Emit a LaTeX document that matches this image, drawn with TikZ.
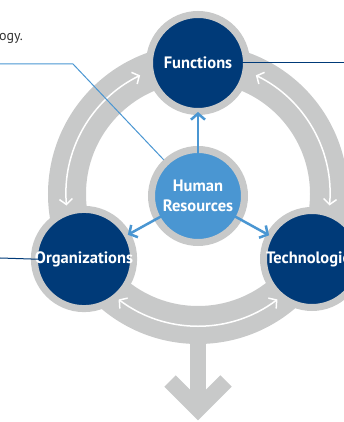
\documentclass[tikz,border=0pt]{standalone}
\usepackage{fontspec}
\setmainfont{PT Sans}
\usetikzlibrary{arrows.meta}
\definecolor{navy}{HTML}{003A78}
\definecolor{skyblue}{HTML}{4A96D2}
\definecolor{ringgray}{HTML}{C8C9C9}
\definecolor{txtgray}{HTML}{333333}

\begin{document}
\begin{tikzpicture}[x=1pt,y=1pt]
   \tikzstyle{every node}=[font=\bfseries\fontsize{16.5}{20}\selectfont, text=white, align=center]
   \tikzstyle{mainnode}=[circle, fill=navy, draw=ringgray, line width=7pt, minimum size=97pt, inner sep=0pt]
   \tikzstyle{hrnode}=[mainnode, fill=skyblue, minimum size=93pt]
   \tikzstyle{ringarrow}=[white, line width=1.5pt, {Straight Barb[length=5.5pt,width=13pt]}-{Straight Barb[length=5.5pt,width=13pt]}]
   \tikzstyle{spoke}=[skyblue, line width=2.5pt, -{Straight Barb[length=6pt,width=14pt]}, shorten <=-8pt, shorten >=-3pt]
   \tikzstyle{leader}=[line width=1pt]

   \useasboundingbox (0,0) rectangle (344,422);
   \coordinate (c) at (198,228);

   \draw[ringgray, line width=38pt] (c) circle[radius=131];
   \draw[ringgray, line width=16pt] (198,100) -- (198,22);
   \draw[ringgray, line width=16pt, miter limit=10] (170,41) -- (198,13) -- (226,41);

   \draw[ringarrow] ([shift={(116:132)}]c) arc[start angle=116, end angle=185, radius=132];
   \draw[ringarrow] ([shift={(64:132)}]c) arc[start angle=64, end angle=-5, radius=132];
   \draw[ringarrow] ([shift={(233:132)}]c) arc[start angle=233, end angle=307, radius=132];

\node[hrnode] (hr) at (198,226) {Human\\Resources};
\node[mainnode] (fn) at (198,359) {Functions};
\node[mainnode] (org) at (84,163) {Organizations};
\node[mainnode] (tech) at (312,163) {Technologies};
\node[font=\fontsize{14}{16}\selectfont, text=txtgray, anchor=base west, inner sep=0pt] (tail) at (-1,381) {ogy.};

   \draw[spoke] (hr) -- (fn);
   \draw[spoke] (hr) -- (org);
   \draw[spoke] (hr) -- (tech);

   \coordinate (hrend) at (0,358);
   \coordinate (bend) at (73,358);
   \coordinate (fnend) at (344,359);
   \coordinate (orgend) at (0,164);
   \draw[leader, skyblue] (hrend) -- (bend) -- (hr);
   \draw[leader, navy, shorten <=-8pt] (fn.east) -- (fnend);
   \draw[leader, navy, shorten >=-8pt] (orgend) -- (org.west);

\end{tikzpicture}
\end{document}
